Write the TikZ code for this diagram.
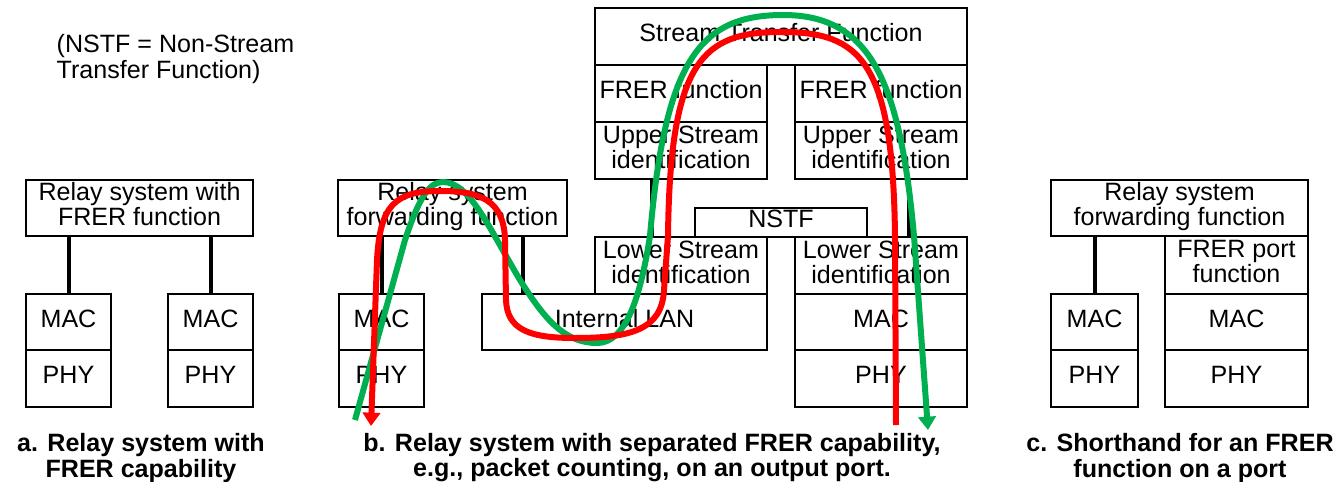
\documentclass[tikz,border=0pt]{standalone}
\usepackage{fontspec}
\setmainfont{Liberation Sans}
\usetikzlibrary{arrows.meta,calc}
\definecolor{fgreen}{RGB}{0,176,80}
\definecolor{fred}{RGB}{255,0,0}
\newcommand\bx[6]{\node[box,anchor=north west,minimum width={(#4-#2)*0.75pt},minimum height={(#5-#3)*0.75pt}] (#1) at (#2,#3) {#6\rule[-5.5pt]{0pt}{5.5pt}};}
\begin{document}
\begin{tikzpicture}[x=0.75pt,y=-0.75pt,
  box/.style={draw,line width=1.5pt,inner sep=0pt,align=center,font=\fontsize{18.8}{18.8}\selectfont},
  conn/.style={line width=3pt},
  capt/.style={align=center,font=\fontsize{18.8}{18.8}\selectfont\bfseries},
  flow/.style={line width=4.5pt,line join=round},
  tipa/.style={-{Triangle[length=10pt,width=13pt]}}]
\useasboundingbox (0,0) rectangle (1339,482);

\node[anchor=west,align=left,font=\fontsize{18.8}{18.8}\selectfont] (note) at (52,59) {(NSTF = Non-Stream\\Transfer Function)};

% panel a
\bx{rsa}{25}{179}{252}{235}{Relay system with\\FRER function}
\bx{maca1}{25}{293}{110}{349}{MAC}
\bx{phya1}{25}{349}{110}{406}{PHY}
\bx{maca2}{167}{293}{252}{349}{MAC}
\bx{phya2}{167}{349}{252}{406}{PHY}
\draw[conn] (maca1.north) -- (maca1.north |- rsa.south);
\draw[conn] (maca2.north) -- (maca2.north |- rsa.south);
\node[capt] (capa) at (141,458) {a. Relay system with\\FRER capability};

% panel b
\bx{rsb}{337}{179}{566}{235}{Relay system\\forwarding function}
\bx{macb}{338}{293}{423}{349}{MAC}
\bx{phyb}{338}{349}{423}{406}{PHY}
\bx{lan}{481}{293}{766}{349}{Internal LAN}
\bx{lsl}{594}{236}{766}{293}{Lower Stream\\identification}
\bx{nstf}{694}{207}{866}{236}{NSTF}
\bx{stf}{594}{7}{966}{64}{Stream Transfer Function}
\bx{frl}{594}{64}{766}{121}{FRER function}
\bx{usl}{594}{121}{766}{178}{Upper Stream\\identification}
\bx{frr}{794}{64}{966}{121}{FRER function}
\bx{usr}{794}{121}{966}{178}{Upper Stream\\identification}
\bx{lsr}{794}{236}{966}{293}{Lower Stream\\identification}
\bx{macr}{794}{293}{966}{349}{MAC}
\bx{phyr}{794}{349}{966}{406}{PHY}
\draw[conn] (macb.north) -- (macb.north |- rsb.south);
\coordinate (lant) at ($(lan.north west)+(42,0)$);
\draw[conn] (lant) -- (lant |- rsb.south);
\coordinate (ull) at ($(usl.south west)+(58,0)$);
\draw[conn] (ull) -- (ull |- lsl.north);
\coordinate (ulr) at ($(usr.south west)+(115,0)$);
\draw[conn] (ulr) -- (ulr |- lsr.north);
\node[capt] (capb) at (652,458) {b. Relay system with separated FRER capability,\\e.g., packet counting, on an output port.};

% panel c
\bx{rsc}{1050}{179}{1307}{235}{Relay system\\forwarding function}
\bx{macc1}{1050}{293}{1137}{349}{MAC}
\bx{phyc1}{1050}{349}{1137}{406}{PHY}
\bx{frp}{1164}{235}{1307}{293}{FRER port\\function}
\bx{macc2}{1164}{293}{1307}{349}{MAC}
\bx{phyc2}{1164}{349}{1307}{406}{PHY}
\draw[conn] (macc1.north) -- (macc1.north |- rsc.south);
\node[capt] (capc) at (1180,458) {c. Shorthand for an FRER\\function on a port};

% flows
\coordinate (gs) at (355,420);
\coordinate (ge) at (928,430);
\draw[flow,fgreen,tipa] (gs) -- (405,240) .. controls (420,195) and (430,182) .. (443,182)
  .. controls (470,182) and (490,230) .. (520,280)
  .. controls (545,320) and (565,343) .. (597,343)
  .. controls (625,343) and (640,300) .. (650,236)
  .. controls (665,60) and (700,15) .. (783,15)
  .. controls (870,15) and (900,80) .. (914,236) -- (ge);
\coordinate (rs) at (896,425);
\coordinate (re) at (371,426);
\draw[flow,fred,tipa] (rs) -- (895,236)
  .. controls (893,60) and (860,32) .. (781,32)
  .. controls (703,32) and (670,60) .. (668,236)
  -- (664,290) .. controls (662,330) and (630,338) .. (575,338)
  .. controls (530,338) and (507,330) .. (506,300)
  -- (505,240) .. controls (504,200) and (480,191) .. (440,191)
  .. controls (395,191) and (380,205) .. (377,260) -- (re);
\end{tikzpicture}
\end{document}
